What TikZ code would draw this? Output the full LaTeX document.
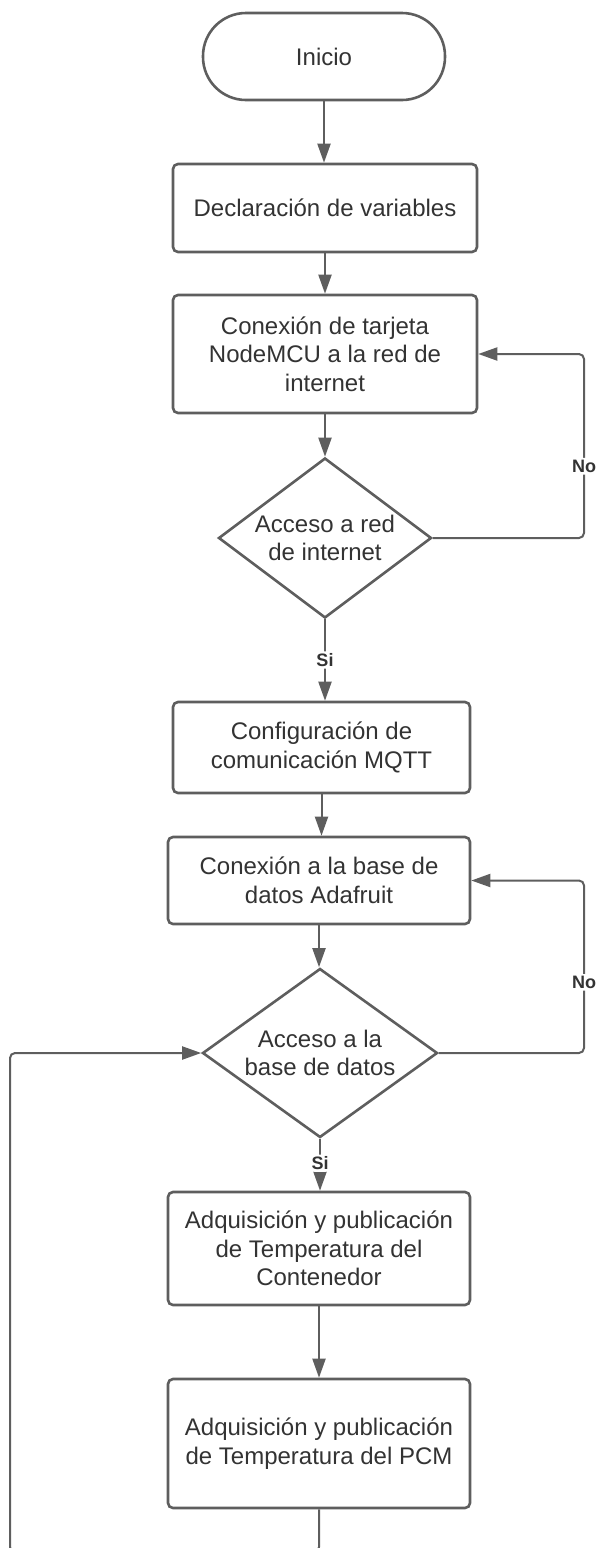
\documentclass[tikz,border=0pt]{standalone}
\usepackage{fontspec}
\setmainfont{Liberation Sans}
\usetikzlibrary{shapes.geometric,arrows.meta}
\definecolor{ln}{HTML}{5E5E5E}
\definecolor{tx}{HTML}{333333}
\begin{document}
\begin{tikzpicture}[x=1pt,y=-1pt,
  box/.style={draw=ln, line width=2.6pt, rounded corners=5pt, fill=white, text=tx,
    font=\fontsize{24}{28.5}\selectfont, align=center, inner sep=0pt},
  dec/.style={diamond, draw=ln, line width=2.6pt, fill=white, text=tx,
    font=\fontsize{24}{28.5}\selectfont, align=center, inner sep=0pt},
  conn/.style={draw=ln, line width=2pt, rounded corners=5pt, -{Triangle[length=19pt,width=13pt]}},
  lbl/.style={fill=white, text=tx, font=\fontsize{18}{20}\selectfont\bfseries, inner sep=2pt}]
\useasboundingbox (0,0) rectangle (600,1548);

\node[box, minimum width=242pt, minimum height=87pt, rounded corners=43pt] (start) at (324,56.5) {Inicio};
\node[box, minimum width=304pt, minimum height=88pt] (decl) at (325,208) {Declaración de variables};
\node[box, minimum width=304pt, minimum height=118pt] (conex) at (325,354) {Conexión de tarjeta\\NodeMCU a la red de\\internet};
\node[dec, minimum width=213pt, minimum height=160pt, aspect=1.33] (d1) at (325,538) {Acceso a red\\de internet};
\node[box, minimum width=297pt, minimum height=91pt] (config) at (321.5,747.5) {Configuración de\\comunicación MQTT};
\node[box, minimum width=302pt, minimum height=87pt] (base) at (319,880.5) {Conexión a la base de\\datos Adafruit};
\node[dec, minimum width=235pt, minimum height=169pt, aspect=1.39] (d2) at (320,1053) {Acceso a la\\base de datos};
\node[box, minimum width=302pt, minimum height=113pt] (cont) at (319,1248.5) {Adquisición y publicación\\de Temperatura del\\Contenedor};
\node[box, minimum width=302pt, minimum height=129pt] (pcm) at (319,1443.5) {Adquisición y publicación\\de Temperatura del PCM};

\draw[conn] (start.south) -- (start.south |- decl.north);
\draw[conn] (decl.south) -- (decl.south |- conex.north);
\draw[conn] (conex.south) -- (conex.south |- d1.north);
\draw[conn] (d1.south) -- node[lbl]{Si} (d1.south |- config.north);
\draw[conn] (config.south) -- (config.south |- base.north);
\draw[conn] (base.south) -- (base.south |- d2.north);
\draw[conn] (d2.south) -- node[lbl,pos=0.47]{Si} (d2.south |- cont.north);
\draw[conn] (cont.south) -- (cont.south |- pcm.north);

\coordinate (r1) at (584,0);
\draw[conn] (d1.east) -- (d1.east -| r1) -- node[lbl,pos=0.39]{No} (r1 |- conex.east) -- (conex.east);
\draw[conn] (d2.east) -- (d2.east -| r1) -- node[lbl,pos=0.41]{No} (r1 |- base.east) -- (base.east);

\coordinate (lb) at (10,1552);
\draw[conn] (pcm.south) -- (pcm.south |- lb) -- (lb) -- (lb |- d2.west) -- (d2.west);
\end{tikzpicture}
\end{document}
